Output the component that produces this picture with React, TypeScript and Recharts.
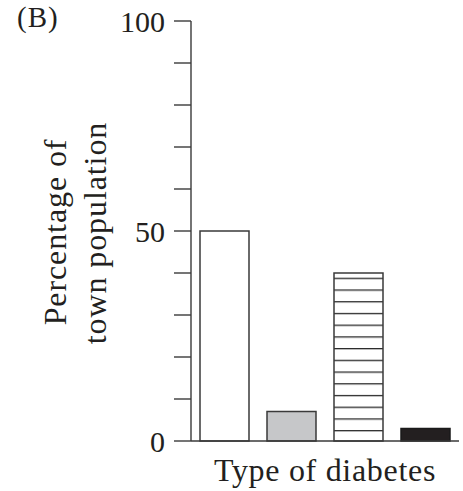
import { BarChart, Bar, XAxis, YAxis, Cell } from 'recharts';

const categories = ['Type A', 'Type B', 'Type C', 'Type D'];
const percentages = [50, 7, 40, 3];
const yTicks = [0, 10, 20, 30, 40, 50, 60, 70, 80, 90, 100];
const labeledTicks = [0, 50, 100];
const fills = ['#ffffff', '#c6c7c9', 'url(#stripes)', '#231f20'];

const data = categories.map((c, i) => ({ name: c, value: percentages[i] }));

const FONT = '"Liberation Serif", "Times New Roman", serif';
const INK = '#231f20';
const LINE = '#3a3a3a';

const YLabel = () => (
  <g fontFamily={FONT} fontSize={32} fill={INK} letterSpacing={0.9}>
    <text x={66} y={232} transform="rotate(-90 66 232)" textAnchor="middle">
      Percentage of
    </text>
    <text x={106} y={233} transform="rotate(-90 106 233)" textAnchor="middle">
      town population
    </text>
  </g>
);

const XLabel = () => (
  <text x={325} y={481} textAnchor="middle" fontFamily={FONT} fontSize={32} fill={INK} letterSpacing={0.7}>
    Type of diabetes
  </text>
);

export default function App() {
  return (
    <div style={{ position: 'absolute', left: 0, top: 0, width: 463, height: 491, background: '#fff' }}>
      <div
        style={{
          position: 'absolute',
          left: 17,
          top: 1,
          fontFamily: FONT,
          fontSize: 29,
          color: INK,
          letterSpacing: 1,
        }}
      >
        (B)
      </div>
      <BarChart
        width={463}
        height={491}
        data={data}
        margin={{ top: 21, right: 4, bottom: 0, left: 131 }}
      >
        <defs>
          <pattern id="stripes" patternUnits="userSpaceOnUse" width={10} height={11.72} y={8.14}>
            <rect x={0} y={0} width={10} height={11.72} fill="#fff" />
            <rect x={0} y={0} width={10} height={1.3} fill="#2a2a2a" />
          </pattern>
        </defs>
        <XAxis
          dataKey="name"
          tick={false}
          tickLine={false}
          height={50}
          axisLine={{ stroke: LINE, strokeWidth: 1.4 }}
          label={<XLabel />}
        />
        <YAxis
          type="number"
          domain={[0, 100]}
          ticks={yTicks}
          interval={0}
          width={60}
          tickSize={17}
          tickMargin={9}
          axisLine={{ stroke: LINE, strokeWidth: 1.4 }}
          tickLine={{ stroke: LINE, strokeWidth: 1.4 }}
          tick={{ fontFamily: FONT, fontSize: 30, fill: INK }}
          tickFormatter={(v: number) => (labeledTicks.includes(v) ? String(v) : '')}
          label={<YLabel />}
        />
        <Bar dataKey="value" barSize={49} stroke={LINE} strokeWidth={1.5} isAnimationActive={false}>
          {data.map((d, i) => (
            <Cell key={d.name} fill={fills[i]} stroke={i === 3 ? '#1a1a1a' : LINE} />
          ))}
        </Bar>
      </BarChart>
    </div>
  );
}
